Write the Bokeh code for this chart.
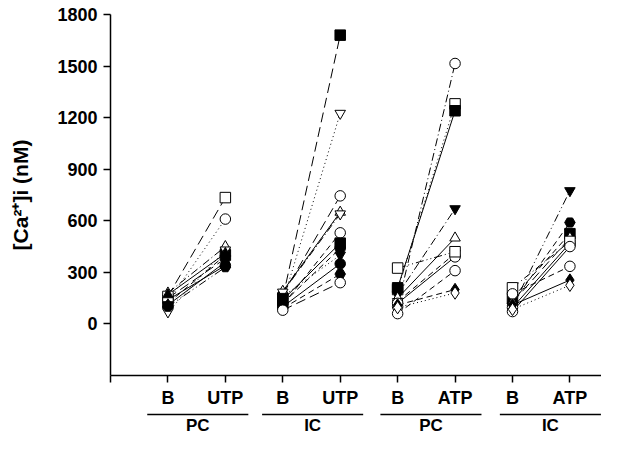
from bokeh.plotting import figure
from bokeh.models import Range1d, FixedTicker
from bokeh.layouts import column
from bokeh.core.properties import value
from bokeh.embed import file_html
from bokeh.resources import INLINE

# ---- data ----
conditions = ["B", "UTP", "B", "UTP", "B", "ATP", "B", "ATP"]
groups = ["PC", "IC", "PC", "IC"]
y_ticks = [0, 300, 600, 900, 1200, 1500, 1800]

# group 1: PC, UTP
pc_utp_basal = [140, 130, 150, 180, 120, 160, 110, 70, 100, 170]
pc_utp_stim = [340, 610, 380, 450, 400, 735, 360, 430, 330, 410]
# group 2: IC, UTP
ic_utp_basal = [150, 130, 170, 190, 185, 110, 140, 120, 160, 100, 90, 80]
ic_utp_stim = [1680, 1225, 745, 650, 640, 530, 470, 440, 400, 350, 290, 240]
# group 3: PC, ATP
pc_atp_basal = [100, 200, 210, 170, 150, 130, 120, 60, 110, 95, 325]
pc_atp_stim = [1515, 1280, 1240, 670, 500, 410, 390, 310, 200, 180, 420]
# group 4: IC, ATP
ic_atp_basal = [100, 120, 150, 125, 95, 210, 175, 110, 72, 85]
ic_atp_stim = [775, 590, 525, 500, 470, 480, 335, 255, 450, 225]

# ---- styles ----
DOT = "1 3"
LDASH = "10 5"
MDASH = "6 4"
DDOT = "8 3 1 3"
DDDOT = "8 3 1 3 1 3"
SOLID = "solid"

g1_style = [("circle", True, SOLID), ("circle", False, DOT), ("inverted_triangle", True, LDASH),
            ("triangle", False, DDOT), ("square", True, MDASH), ("square", False, LDASH),
            ("diamond", True, SOLID), ("inverted_triangle", False, DOT), ("hex", True, DDDOT),
            ("triangle", True, SOLID)]
g2_style = [("square", True, LDASH), ("inverted_triangle", False, DOT), ("circle", False, LDASH),
            ("triangle", False, SOLID), ("inverted_triangle", False, DDOT), ("circle", False, MDASH),
            ("square", True, SOLID), ("circle", True, MDASH), ("inverted_triangle", True, DOT),
            ("circle", True, SOLID), ("hex", True, MDASH), ("circle", False, LDASH)]
g3_style = [("circle", False, DDOT), ("square", False, DOT), ("square", True, SOLID),
            ("inverted_triangle", True, DDOT), ("triangle", False, SOLID), ("inverted_triangle", False, MDASH),
            ("circle", False, SOLID), ("circle", False, MDASH), ("diamond", True, MDASH),
            ("diamond", False, DOT), ("square", False, DDDOT)]
g4_style = [("inverted_triangle", True, DDDOT), ("hex", True, MDASH), ("square", True, MDASH),
            ("triangle", False, LDASH), ("circle", False, SOLID), ("square", False, DDOT),
            ("circle", False, MDASH), ("diamond", True, SOLID), ("circle", False, SOLID),
            ("diamond", False, DOT)]

series = [(pc_utp_basal, pc_utp_stim, g1_style),
          (ic_utp_basal, ic_utp_stim, g2_style),
          (pc_atp_basal, pc_atp_stim, g3_style),
          (ic_atp_basal, ic_atp_stim, g4_style)]

FONT = "Liberation Sans"
W = 601
LEFT = 110
x_range = Range1d(0, 8.55)

p = figure(width=W, height=410, output_backend="svg", toolbar_location=None,
           x_range=x_range, y_range=Range1d(-300, 1800),
           min_border_left=LEFT, min_border_right=0, min_border_top=14, min_border_bottom=30)
p.outline_line_color = None
p.xgrid.visible = False
p.ygrid.visible = False

# lines first
for gi, (basal, stim, style) in enumerate(series):
    xb, xs = 2 * gi + 1, 2 * gi + 2
    for b, s, (m, filled, dash) in zip(basal, stim, style):
        p.line([xb, xs], [b, s], line_color="black", line_width=1, line_dash=dash)
# markers
for gi, (basal, stim, style) in enumerate(series):
    xb, xs = 2 * gi + 1, 2 * gi + 2
    for b, s, (m, filled, dash) in zip(basal, stim, style):
        p.scatter([xb, xs], [b, s], marker=m, size=10.5 if m != "diamond" else 12.5,
                  fill_color="black" if filled else "white", line_color="black", line_width=1)

# axes
for ax in (p.xaxis, p.yaxis):
    ax.minor_tick_line_color = None
    ax.major_tick_out = 7
    ax.major_tick_in = 0
    ax.axis_line_color = "black"
    ax.axis_line_width = 1.5
    ax.major_tick_line_color = "black"
    ax.major_tick_line_width = 1.5
    ax.major_label_text_font = FONT
    ax.major_label_text_font_style = "bold"
    ax.major_label_text_font_size = "18px"
    ax.major_label_text_color = "black"

p.yaxis.ticker = FixedTicker(ticks=y_ticks)
p.yaxis.major_label_standoff = 6
p.yaxis.axis_label = "[Ca²⁺]i (nM)"
p.yaxis.axis_label_text_font = FONT
p.yaxis.axis_label_text_font_style = "bold"
p.yaxis.axis_label_text_font_size = "21px"
p.yaxis.axis_label_text_color = "black"
p.yaxis.axis_label_standoff = 22

p.xaxis.ticker = FixedTicker(ticks=list(range(0, 9)))
p.xaxis.major_label_overrides = {0: ""} | {i + 1: c for i, c in enumerate(conditions)}
p.xaxis.major_label_standoff = 5

# ---- group labels with underlines (strip below the main plot) ----
H2 = 26
q = figure(width=W, height=H2, output_backend="svg", toolbar_location=None,
           x_range=x_range, y_range=Range1d(H2, 0), x_axis_type=None, y_axis_type=None,
           min_border_left=LEFT, min_border_right=0, min_border_top=0, min_border_bottom=0)
q.outline_line_color = None
q.xgrid.visible = False
q.ygrid.visible = False

centers = [1.52, 3.52, 5.58, 7.66]
half = 0.88
q.segment(x0=[c - half for c in centers], x1=[c + half for c in centers],
          y0=[4] * 4, y1=[4] * 4, line_color="black", line_width=1.5)
q.text(x=centers, y=[5.5] * 4, text=groups, text_align="center", text_baseline="top",
       text_font=value(FONT), text_font_style="bold", text_font_size="17px", text_color="black")

layout = column(p, q, spacing=0)
open("out.html", "w").write(file_html(layout, INLINE))
